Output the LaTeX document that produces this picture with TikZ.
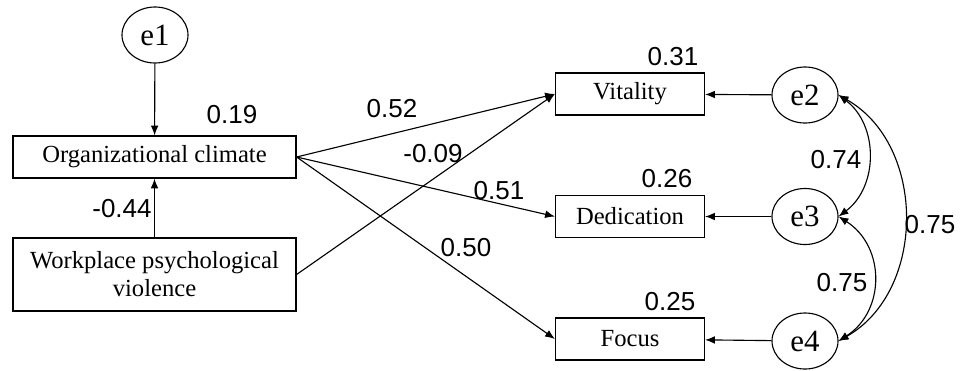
\documentclass[tikz,border=0pt]{standalone}
\usepackage{fontspec}
\setmainfont{Liberation Serif}
\newfontfamily\numfont{Liberation Sans}
\usetikzlibrary{shapes}
\usetikzlibrary{arrows.meta}

\begin{document}
\begin{tikzpicture}[x=0.025cm, y=-0.025cm, -{Latex[length=7pt,width=5.5pt]}, thick,
    var/.style ={rectangle, draw, font=\fontsize{17.5}{20}\selectfont, align=center, minimum height=1.05cm},
    err/.style ={ellipse, draw, font=\fontsize{22}{24}\selectfont, minimum width=1.65cm, minimum height=1.4cm, inner sep=0pt},
    coef/.style ={font=\numfont\fontsize{18.5}{21}\selectfont}]
    \useasboundingbox (0,0) rectangle (968,370);
    % left side
    \node[err] (E1) at (155,35) {e1};
    \node[var, minimum width=7.075cm] (OC) at (154.5,157) {Organizational climate};
    \node[var, minimum width=7.075cm, minimum height=1.825cm] (WPV) at (154.5,274.5) {Workplace psychological\\violence};
    % right side
    \node[var, minimum width=3.725cm] (V) at (630,94) {Vitality};
    \node[var, minimum width=3.725cm] (D) at (630,216.5) {Dedication};
    \node[var, minimum width=3.725cm] (F) at (630,339) {Focus};
    \node[err] (E2) at (805,95) {e2};
    \node[err] (E3) at (805,216.5) {e3};
    \node[err] (E4) at (805,341) {e4};
    % paths
    \draw (E1) -- (OC);
    \draw (WPV) -- (OC);
    \draw (OC.east) -- (V.west);
    \draw (OC.east) -- (D.west);
    \draw (OC.east) -- (F.west);
    \draw (WPV.east) -- (V.west);
    \draw (E2) -- (V);
    \draw (E3) -- (D);
    \draw (E4) -- (F);
    % covariances
    \draw[{Latex[length=7pt,width=5.5pt]}-{Latex[length=7pt,width=5.5pt]}] (E2.east) .. controls +(40,30) and +(40,-30) .. (E3.east);
    \draw[{Latex[length=7pt,width=5.5pt]}-{Latex[length=7pt,width=5.5pt]}] (E3.east) .. controls +(47,30) and +(47,-30) .. (E4.east);
    \draw[{Latex[length=7pt,width=5.5pt]}-{Latex[length=7pt,width=5.5pt]}] (E2.east) .. controls +(88,50) and +(88,-50) .. (E4.east);
    % estimates
    \node[coef] (r1) at (232,115) {0.19};
    \node[coef] (r2) at (673,57) {0.31};
    \node[coef] (r3) at (667,179) {0.26};
    \node[coef] (r4) at (670,302) {0.25};
    \node[coef] (p1) at (122,209) {-0.44};
    \node[coef] (p2) at (392,109) {0.52};
    \node[coef] (p3) at (433,154) {-0.09};
    \node[coef] (p4) at (499,191) {0.51};
    \node[coef] (p5) at (466,248) {0.50};
    \node[coef] (c1) at (836,160) {0.74};
    \node[coef] (c2) at (842,283) {0.75};
    \node[coef] (c3) at (930,225) {0.75};
\end{tikzpicture}
\end{document}
